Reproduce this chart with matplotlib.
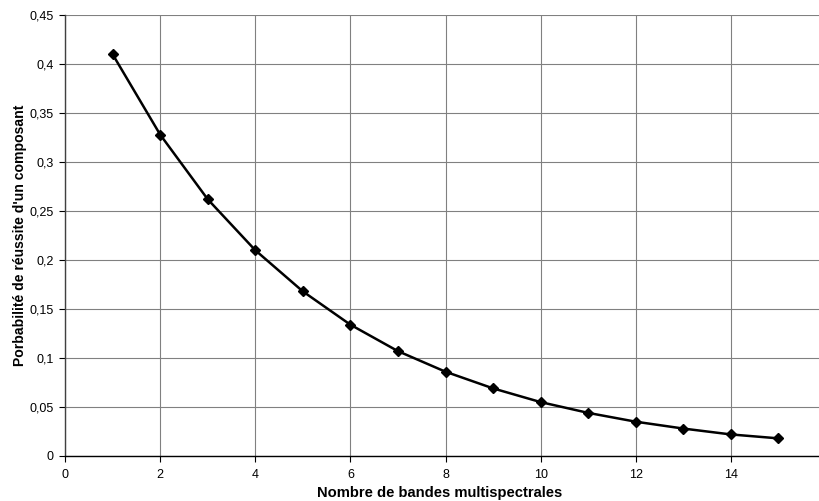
import matplotlib
matplotlib.use("Agg")
import matplotlib.pyplot as plt
from matplotlib.ticker import FuncFormatter, MultipleLocator

plt.rcParams['font.family'] = ['Liberation Sans', 'DejaVu Sans']

bands = [1, 2, 3, 4, 5, 6, 7, 8, 9, 10, 11, 12, 13, 14, 15]
prob = [0.41, 0.328, 0.262, 0.21, 0.168, 0.134, 0.107, 0.086, 0.069, 0.055,
        0.044, 0.035, 0.028, 0.022, 0.018]

W, H = 819, 501
fig = plt.figure(figsize=(W / 100, H / 100), dpi=100)
left, right, top, bottom = 65, 826, 15, 456
ax = fig.add_axes([left / W, (H - bottom) / H, (right - left) / W, (bottom - top) / H])

ax.plot(bands, prob, color='black', linewidth=1.8, marker='D', markersize=5,
        markerfacecolor='black', markeredgecolor='black', zorder=3)

ax.set_xlim(0, 16)
ax.set_ylim(0, 0.45)
ax.xaxis.set_major_locator(MultipleLocator(2))
ax.yaxis.set_major_locator(MultipleLocator(0.05))

def fmt(v, pos):
    s = ('%.2f' % v).rstrip('0').rstrip('.')
    return s.replace('.', ',')

ax.xaxis.set_major_formatter(FuncFormatter(fmt))
ax.yaxis.set_major_formatter(FuncFormatter(fmt))

ax.grid(True, color='#808080', linewidth=0.8)
ax.set_axisbelow(True)
for s in ['top', 'right']:
    ax.spines[s].set_visible(False)
ax.spines['left'].set_color('#404040')
ax.spines['bottom'].set_color('black')
ax.spines['left'].set_linewidth(1.0)
ax.spines['bottom'].set_linewidth(1.0)

ax.tick_params(axis='both', labelsize=9, length=4, direction='out', colors='black')
ax.tick_params(axis='x', pad=5)
ax.tick_params(axis='y', pad=4)

fig.text(440 / W, 1 - 493 / H, 'Nombre de bandes multispectrales', fontsize=10.6,
         fontweight='bold', ha='center', va='center')
fig.text(20 / W, 1 - 235 / H, "Porbabilité de réussite d'un composant", fontsize=10.1,
         fontweight='bold', ha='center', va='center', rotation=90)

fig.savefig('out.png', dpi=100)
